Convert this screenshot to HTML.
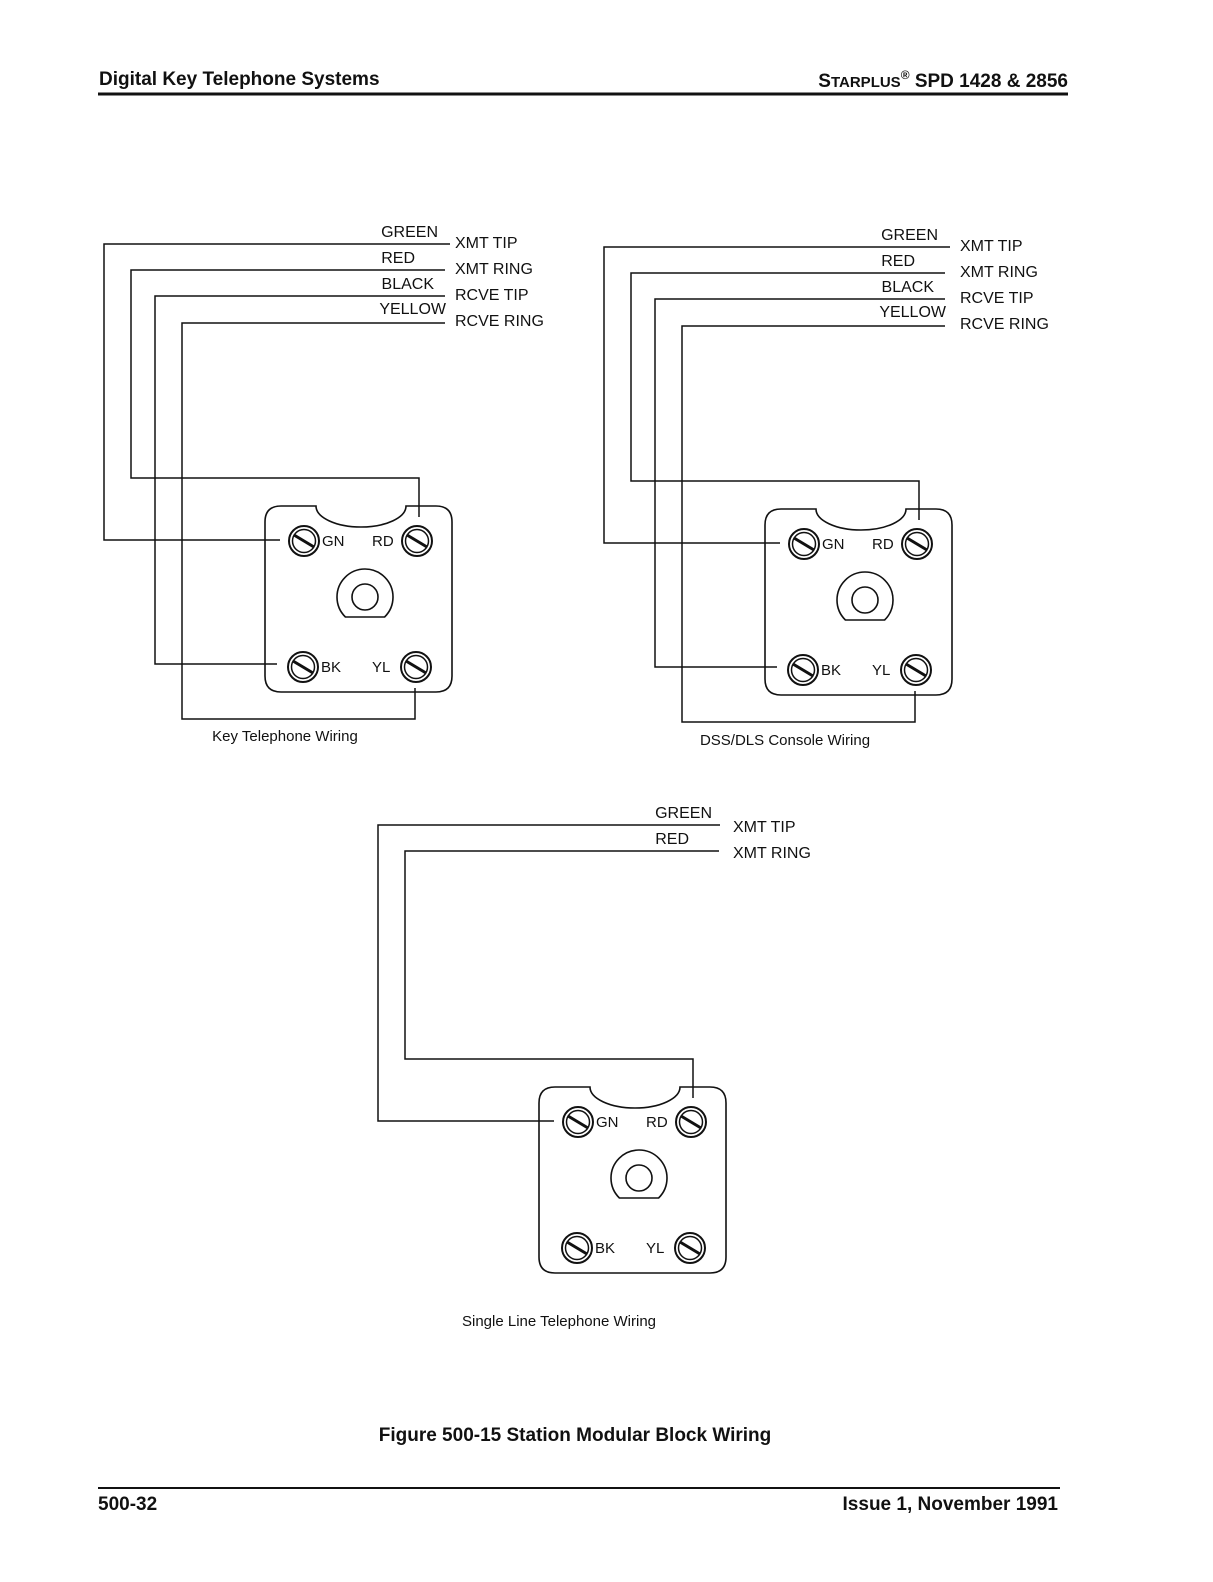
<!DOCTYPE html>
<html><head><meta charset="utf-8"><style>
body{margin:0;background:#fff}
svg{display:block}
text{font-family:"Liberation Sans",Arial,sans-serif;fill:#111}
</style></head><body>
<svg width="1213" height="1582" viewBox="0 0 1213 1582" xmlns="http://www.w3.org/2000/svg">
<defs>
<g id="scr"><circle r="15" fill="#fff" stroke="#111" stroke-width="2"/><circle r="11.5" fill="none" stroke="#111" stroke-width="1.5"/><line x1="-10" y1="-6" x2="10" y2="6" stroke="#111" stroke-width="3"/></g>
<g id="box">
<path d="M281 506 L316 506 A45 21 0 0 0 406 506 L436 506 Q452 506 452 522 L452 676 Q452 692 436 692 L281 692 Q265 692 265 676 L265 522 Q265 506 281 506 Z" fill="none" stroke="#111" stroke-width="1.6"/>
<path d="M345.4 617 A28 28 0 1 1 384.6 617 Z" fill="none" stroke="#111" stroke-width="1.6"/>
<circle cx="365" cy="597" r="13" fill="none" stroke="#111" stroke-width="1.6"/>
<use href="#scr" x="304" y="541"/><use href="#scr" x="417" y="541"/>
<use href="#scr" x="303" y="667"/><use href="#scr" x="416" y="667"/>
</g>
</defs>
<text x="99" y="85" font-size="19" font-weight="bold">Digital Key Telephone Systems</text>
<text x="1068" y="87" font-size="19" font-weight="bold" text-anchor="end">S<tspan font-size="15">TARPLUS</tspan><tspan font-size="12" dy="-8">®</tspan><tspan dy="8"> SPD 1428 &amp; 2856</tspan></text>
<line x1="98" y1="94" x2="1068" y2="94" stroke="#111" stroke-width="3"/>

<g fill="none" stroke="#111" stroke-width="1.5">
<polyline points="450,244 104,244 104,540 280,540"/>
<polyline points="445,270 131,270 131,478 419,478 419,517"/>
<polyline points="445,296 155,296 155,664 277,664"/>
<polyline points="445,323 182,323 182,719 415,719 415,688"/>
<g transform="translate(500,3)">
<polyline points="450,244 104,244 104,540 280,540"/>
<polyline points="445,270 131,270 131,478 419,478 419,517"/>
<polyline points="445,296 155,296 155,664 277,664"/>
<polyline points="445,323 182,323 182,719 415,719 415,688"/>
</g>
<g transform="translate(274,581)">
<polyline points="446,244 104,244 104,540 280,540"/>
<polyline points="445,270 131,270 131,478 419,478 419,517"/>
</g>
</g>
<use href="#box"/>
<use href="#box" x="500" y="3"/>
<use href="#box" x="274" y="581"/>

<g font-size="16">
<g>
<text x="438" y="237" text-anchor="end">GREEN</text><text x="415" y="263" text-anchor="end">RED</text>
<text x="434" y="289" text-anchor="end">BLACK</text><text x="446" y="314" text-anchor="end">YELLOW</text>
<text x="455" y="248">XMT TIP</text><text x="455" y="274">XMT RING</text>
<text x="455" y="300">RCVE TIP</text><text x="455" y="326">RCVE RING</text>
<text x="322" y="546" font-size="15">GN</text><text x="372" y="546" font-size="15">RD</text>
<text x="321" y="672" font-size="15">BK</text><text x="372" y="672" font-size="15">YL</text>
</g>
<g transform="translate(500,3)">
<text x="438" y="237" text-anchor="end">GREEN</text><text x="415" y="263" text-anchor="end">RED</text>
<text x="434" y="289" text-anchor="end">BLACK</text><text x="446" y="314" text-anchor="end">YELLOW</text>
<text x="460" y="248">XMT TIP</text><text x="460" y="274">XMT RING</text>
<text x="460" y="300">RCVE TIP</text><text x="460" y="326">RCVE RING</text>
<text x="322" y="546" font-size="15">GN</text><text x="372" y="546" font-size="15">RD</text>
<text x="321" y="672" font-size="15">BK</text><text x="372" y="672" font-size="15">YL</text>
</g>
<g transform="translate(274,581)">
<text x="438" y="237" text-anchor="end">GREEN</text><text x="415" y="263" text-anchor="end">RED</text>
<text x="459" y="251">XMT TIP</text><text x="459" y="277">XMT RING</text>
<text x="322" y="546" font-size="15">GN</text><text x="372" y="546" font-size="15">RD</text>
<text x="321" y="672" font-size="15">BK</text><text x="372" y="672" font-size="15">YL</text>
</g>
</g>
<g font-size="15" text-anchor="middle">
<text x="285" y="741">Key Telephone Wiring</text>
<text x="785" y="745">DSS/DLS Console Wiring</text>
<text x="559" y="1326">Single Line Telephone Wiring</text>
</g>
<text x="575" y="1441" font-size="19" font-weight="bold" text-anchor="middle">Figure 500-15 Station Modular Block Wiring</text>
<line x1="98" y1="1488" x2="1060" y2="1488" stroke="#111" stroke-width="2"/>
<text x="98" y="1510" font-size="19" font-weight="bold">500-32</text>
<text x="1058" y="1510" font-size="19" font-weight="bold" text-anchor="end">Issue 1,  November 1991</text>
</svg>
</body></html>
